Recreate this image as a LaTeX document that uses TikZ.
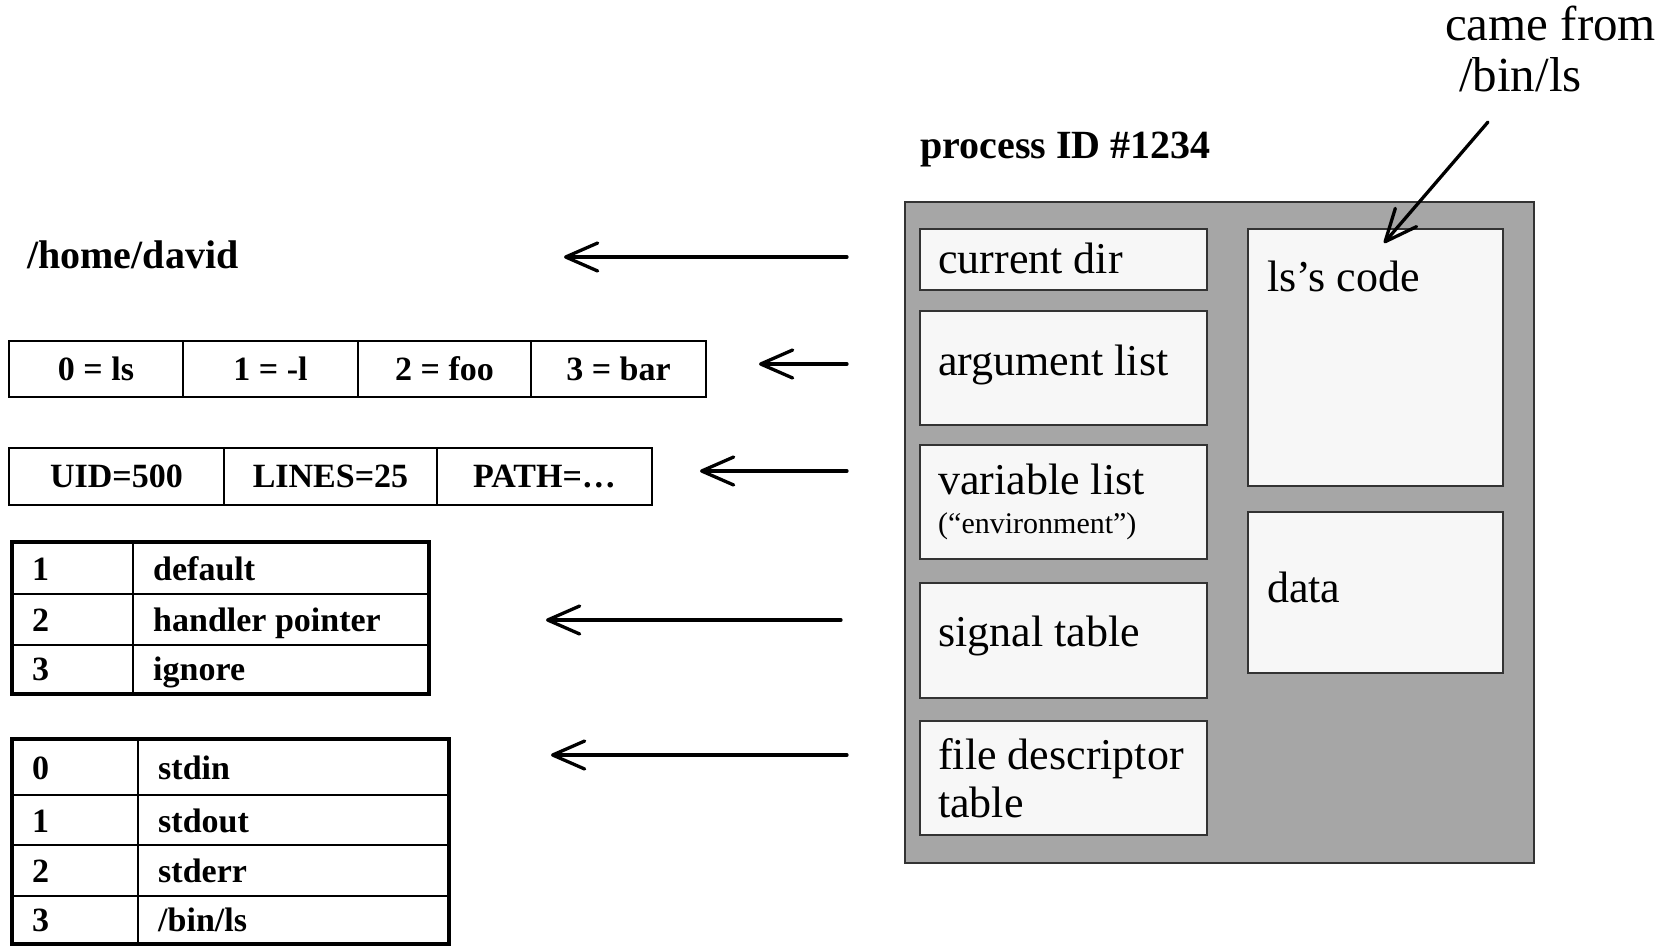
\documentclass[tikz,border=0pt]{standalone}
\usepackage{fontspec}
\setmainfont{Liberation Serif}
\usetikzlibrary{arrows.meta}

\definecolor{procgray}{HTML}{A6A6A6}
\definecolor{segfill}{HTML}{F7F7F7}
\definecolor{segline}{HTML}{333333}

\tikzset{
  arr/.style={line width=3.3pt, line cap=round, -{Straight Barb[length=32pt,width=28pt,line cap=round,line join=round]}},
  cellbox/.style={draw, line width=1.6pt, inner sep=0pt, minimum width=#1},
  tabtxt/.style={font=\fontsize{34}{40}\selectfont\bfseries, inner sep=0pt},
  segbox/.style={draw=segline, fill=segfill, line width=2pt, inner sep=0pt},
  segtxt/.style={font=\fontsize{44}{50}\selectfont, inner sep=0pt, anchor=base west},
  headtxt/.style={font=\fontsize{40}{46}\selectfont\bfseries, inner sep=0pt, anchor=base west},
}

\begin{document}
\begin{tikzpicture}[x=1pt, y=-1pt]
\useasboundingbox (0,0) rectangle (1670,945);

% ---- process block ----
\node[draw=segline, fill=procgray, line width=2pt, inner sep=0pt,
      minimum width=629pt, minimum height=661pt] (proc) at (1219.5,532.5) {};
\node[headtxt] (pid) at (920,158) {process ID \#1234};

\node[segbox, minimum width=287pt, minimum height=61pt]  (cwd)  at (1063.5,259.5) {};
\node[segbox, minimum width=287pt, minimum height=114pt] (argl) at (1063.5,368)   {};
\node[segbox, minimum width=287pt, minimum height=114pt] (varl) at (1063.5,502)   {};
\node[segbox, minimum width=287pt, minimum height=115pt] (sigt) at (1063.5,640.5) {};
\node[segbox, minimum width=287pt, minimum height=114pt] (fdt)  at (1063.5,778)   {};
\node[segbox, minimum width=255pt, minimum height=257pt] (code) at (1375.5,357.5) {};
\node[segbox, minimum width=255pt, minimum height=161pt] (data) at (1375.5,592.5) {};

\node[segtxt] (cwdL)  at (938,273) {current dir};
\node[segtxt] (argL)  at (938,375) {argument list};
\node[segtxt] (varL)  at (938,494) {variable list};
\node[segtxt, font=\fontsize{30}{36}\selectfont] (envL) at (938,533) {(“environment”)};
\node[segtxt] (sigL)  at (938,646) {signal table};
\node[segtxt] (fdL1)  at (938,769) {file descriptor};
\node[segtxt] (fdL2)  at (938,817) {table};
\node[segtxt] (codeL) at (1267,291) {ls’s code};
\node[segtxt] (dataL) at (1267,602) {data};

% ---- origin of the code ----
\node[segtxt, font=\fontsize{49}{55}\selectfont] (came) at (1445,40) {came from};
\node[segtxt, font=\fontsize{49}{55}\selectfont] (binls) at (1459,91) {/bin/ls};
\coordinate (srcA) at (1488,122);
\coordinate (srcB) at (1384,243);
\draw[arr] (srcA) -- (srcB);

% ---- current directory ----
\node[headtxt] (home) at (27,268) {/home/david};

% ---- argument list ----
\node[cellbox=174pt, minimum height=56pt, tabtxt] (a0) at (96,369)    {0 = ls};
\node[cellbox=175pt, minimum height=56pt, tabtxt] (a1) at (270.5,369) {1 = -l};
\node[cellbox=173pt, minimum height=56pt, tabtxt] (a2) at (444.5,369) {2 = foo};
\node[cellbox=175pt, minimum height=56pt, tabtxt] (a3) at (618.5,369) {3 = bar};

% ---- environment ----
\node[cellbox=215pt, minimum height=57pt, tabtxt] (e0) at (116.5,476.5) {UID=500};
\node[cellbox=213pt, minimum height=57pt, tabtxt] (e1) at (330.5,476.5) {LINES=25};
\node[cellbox=215pt, minimum height=57pt, tabtxt] (e2) at (544.5,476.5) {PATH=…};

% ---- signal table ----
\node[cellbox=120pt, minimum height=51pt] (s1a) at (73,568.5)  {};
\node[cellbox=295pt, minimum height=51pt] (s1b) at (280.5,568.5) {};
\node[cellbox=120pt, minimum height=51pt] (s2a) at (73,619.5)  {};
\node[cellbox=295pt, minimum height=51pt] (s2b) at (280.5,619.5) {};
\node[cellbox=120pt, minimum height=48pt] (s3a) at (73,669)    {};
\node[cellbox=295pt, minimum height=48pt] (s3b) at (280.5,669)   {};
\draw[line width=3.5pt] (s1a.north west) rectangle (s3b.south east);
\node[tabtxt, anchor=base west] (s1n) at (32,580)  {1};
\node[tabtxt, anchor=base west] (s1t) at (153,580) {default};
\node[tabtxt, anchor=base west] (s2n) at (32,631)  {2};
\node[tabtxt, anchor=base west] (s2t) at (153,631) {handler pointer};
\node[tabtxt, anchor=base west] (s3n) at (32,680)  {3};
\node[tabtxt, anchor=base west] (s3t) at (153,680) {ignore};

% ---- file descriptor table ----
\node[cellbox=125pt, minimum height=55pt] (f0a) at (75.5,767.5) {};
\node[cellbox=310pt, minimum height=55pt] (f0b) at (293,767.5)  {};
\node[cellbox=125pt, minimum height=50pt] (f1a) at (75.5,820)   {};
\node[cellbox=310pt, minimum height=50pt] (f1b) at (293,820)    {};
\node[cellbox=125pt, minimum height=51pt] (f2a) at (75.5,870.5) {};
\node[cellbox=310pt, minimum height=51pt] (f2b) at (293,870.5)  {};
\node[cellbox=125pt, minimum height=47pt] (f3a) at (75.5,919.5) {};
\node[cellbox=310pt, minimum height=47pt] (f3b) at (293,919.5)  {};
\draw[line width=3.5pt] (f0a.north west) rectangle (f3b.south east);
\node[tabtxt, anchor=base west] (f0n) at (32,779)  {0};
\node[tabtxt, anchor=base west] (f0t) at (158,779) {stdin};
\node[tabtxt, anchor=base west] (f1n) at (32,832)  {1};
\node[tabtxt, anchor=base west] (f1t) at (158,832) {stdout};
\node[tabtxt, anchor=base west] (f2n) at (32,882)  {2};
\node[tabtxt, anchor=base west] (f2t) at (158,882) {stderr};
\node[tabtxt, anchor=base west] (f3n) at (32,931)  {3};
\node[tabtxt, anchor=base west] (f3t) at (158,931) {/bin/ls};

% ---- pointers out of the process ----
\coordinate (p1s) at (847,257); \coordinate (p1e) at (564,257);
\coordinate (p2s) at (847,364); \coordinate (p2e) at (759,364);
\coordinate (p3s) at (847,471); \coordinate (p3e) at (700,471);
\coordinate (p4s) at (841,620); \coordinate (p4e) at (546,620);
\coordinate (p5s) at (847,755); \coordinate (p5e) at (551,755);
\draw[arr] (p1s) -- (p1e);
\draw[arr] (p2s) -- (p2e);
\draw[arr] (p3s) -- (p3e);
\draw[arr] (p4s) -- (p4e);
\draw[arr] (p5s) -- (p5e);
\end{tikzpicture}
\end{document}
